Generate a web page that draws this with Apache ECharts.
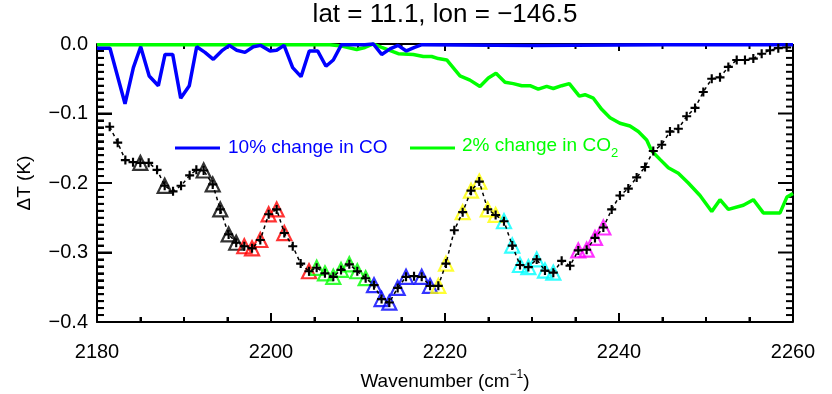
<!DOCTYPE html>
<html><head><meta charset="utf-8">
<script src="https://cdn.jsdelivr.net/npm/echarts@6/dist/echarts.min.js"></script>
<style>html,body{margin:0;padding:0;background:#fff}#c{width:832px;height:394px}</style>
</head><body><div id="c"></div>
<script>
// ---- data ----
const titleText = 'lat = 11.1, lon = \u2212146.5';
const xTicks = [2180, 2200, 2220, 2240, 2260];
const yTicks = [0.0, -0.1, -0.2, -0.3, -0.4];

const wavenumber = [2181.46, 2182.38, 2183.26, 2184.14, 2184.98, 2185.94, 2186.90, 2187.78, 2188.74, 2189.66,
  2190.65, 2191.42, 2192.26, 2193.30, 2194.17, 2195.13, 2196.00, 2196.93, 2197.82, 2198.77,
  2199.73, 2200.65, 2201.53, 2202.50, 2203.41, 2204.37, 2205.25, 2206.20, 2207.16, 2208.05,
  2209.00, 2209.92, 2210.88, 2211.84, 2212.71, 2213.60, 2214.56, 2215.52, 2216.44, 2217.32,
  2218.28, 2219.23, 2220.11, 2221.07, 2222.03, 2222.99, 2223.94, 2224.91, 2225.82, 2226.78,
  2227.73, 2228.62, 2229.58, 2230.54, 2231.49, 2232.45, 2233.41, 2234.37, 2235.32, 2236.28,
  2237.24, 2238.20, 2239.16, 2240.11, 2241.07, 2242.03, 2242.99, 2243.94, 2244.91, 2245.86,
  2246.82, 2247.78, 2248.74, 2249.69, 2250.66, 2251.61, 2252.57, 2253.53, 2254.48, 2255.44,
  2256.40, 2257.36, 2258.31, 2259.27];
const deltaT = [-0.119, -0.142, -0.167, -0.170, -0.171, -0.171, -0.181, -0.204, -0.212, -0.204,
  -0.189, -0.181, -0.182, -0.202, -0.238, -0.274, -0.286, -0.291, -0.294, -0.282,
  -0.245, -0.238, -0.272, -0.291, -0.316, -0.327, -0.322, -0.330, -0.335, -0.325,
  -0.317, -0.327, -0.337, -0.347, -0.367, -0.372, -0.351, -0.335, -0.334, -0.335,
  -0.348, -0.348, -0.316, -0.268, -0.242, -0.211, -0.198, -0.238, -0.246, -0.255,
  -0.290, -0.318, -0.321, -0.310, -0.326, -0.329, -0.312, -0.319, -0.297, -0.296,
  -0.279, -0.264, -0.238, -0.218, -0.208, -0.192, -0.177, -0.154, -0.145, -0.126,
  -0.122, -0.104, -0.092, -0.069, -0.050, -0.048, -0.033, -0.023, -0.023, -0.021,
  -0.014, -0.009, -0.006, -0.005];

// channels marked with triangles (indices into the arrays above), by colour
const triBlack   = [4, 7, 12, 13, 14, 15, 16];
const triRed     = [17, 18, 19, 20, 21, 22, 25];
const triGreen   = [26, 27, 28, 29, 30, 31, 32];
const triBlue    = [33, 34, 35, 36, 37, 39, 40];
const triYellow  = [41, 42, 44, 45, 46, 47, 48];
const triCyan    = [49, 50, 51, 52, 53, 54, 55];
const triMagenta = [58, 59, 60, 61];

const coX = [2180.00, 2181.49, 2183.22, 2184.18, 2185.02, 2186.00, 2187.05, 2187.82, 2188.70, 2189.62,
  2190.61, 2191.46, 2192.41, 2193.37, 2194.33, 2195.21, 2196.06, 2197.01, 2197.97, 2198.82,
  2199.89, 2200.65, 2201.50, 2202.49, 2203.45, 2204.40, 2205.36, 2206.32, 2207.16, 2208.10,
  2209.90, 2210.80, 2211.76, 2212.72, 2213.68, 2214.60, 2215.56, 2216.50, 2217.35, 2230.00,
  2245.00, 2260.00];
const coY = [-0.006, -0.006, -0.086, -0.034, -0.004, -0.046, -0.060, -0.015, -0.015, -0.078,
  -0.060, -0.004, -0.012, -0.022, -0.010, -0.002, -0.009, -0.012, -0.004, -0.002,
  -0.010, -0.009, -0.002, -0.034, -0.047, -0.010, -0.010, -0.032, -0.023, -0.001,
  -0.001, -0.001, 0.000, -0.015, -0.007, -0.002, -0.010, -0.005, -0.001, -0.002,
  -0.001, -0.001];

const co2X = [2180.00, 2206.78, 2208.13, 2209.85, 2210.80, 2211.76, 2212.72, 2214.63, 2216.36, 2217.51,
  2218.47, 2219.23, 2220.20, 2221.72, 2222.87, 2224.02, 2224.98, 2225.86, 2226.90, 2227.85,
  2228.82, 2229.77, 2230.72, 2231.69, 2232.45, 2233.41, 2234.29, 2235.44, 2236.09, 2237.05,
  2238.01, 2238.97, 2240.11, 2241.26, 2242.22, 2243.18, 2243.76, 2244.71, 2245.67, 2246.82,
  2247.97, 2249.31, 2250.66, 2251.61, 2252.57, 2254.29, 2255.44, 2256.59, 2258.51, 2259.31,
  2260.00];
const co2Y = [-0.001, -0.001, -0.003, -0.008, -0.005, 0.000, -0.005, -0.014, -0.015, -0.018,
  -0.018, -0.021, -0.023, -0.046, -0.052, -0.061, -0.049, -0.042, -0.055, -0.057,
  -0.060, -0.060, -0.065, -0.061, -0.064, -0.060, -0.057, -0.075, -0.073, -0.078,
  -0.094, -0.106, -0.114, -0.118, -0.126, -0.138, -0.154, -0.166, -0.178, -0.186,
  -0.200, -0.218, -0.241, -0.224, -0.238, -0.232, -0.224, -0.243, -0.243, -0.220,
  -0.215];

// ---- chart ----
const FONT = 'Liberation Sans';
const pairs = (xs, ys) => xs.map((x, i) => [x, ys[i]]);
const pick = idx => idx.map(i => [wavenumber[i], deltaT[i]]);
const PLUS = 'path://M3.8,0h2.4v3.8h3.8v2.4h-3.8v3.8h-2.4v-3.8h-3.8v-2.4h3.8z';

const XMIN = xTicks[0], XMAX = xTicks[xTicks.length - 1];
const YMIN = yTicks[yTicks.length - 1], YMAX = yTicks[0];

// tick positions (major every 20 / 0.1, minor every 5 / 0.01): [x, y, side(0=x,1=y), major]
const tickData = [];
for (let k = 0; k <= (XMAX - XMIN) / 5; k++) tickData.push([XMIN + 5 * k, YMIN, 0, k % 4 === 0 ? 1 : 0]);
for (let k = 0; k <= 40; k++) tickData.push([XMIN, +(YMIN + 0.01 * k).toFixed(2), 1, k % 10 === 0 ? 1 : 0]);

function renderTick(params, api) {
  const side = api.value(2), major = api.value(3) === 1;
  const st = {stroke: '#000', lineWidth: 2, fill: null};
  if (side === 0) {
    const v = api.value(0);
    const b = api.coord([v, YMIN]), t = api.coord([v, YMAX]);
    const lb = major ? 9 : 5, lt = major ? 7 : 5;
    return {type: 'group', children: [
      {type: 'line', shape: {x1: b[0], y1: b[1], x2: b[0], y2: b[1] - lb}, style: st},
      {type: 'line', shape: {x1: t[0], y1: t[1], x2: t[0], y2: t[1] + lt}, style: st}
    ]};
  }
  const v = api.value(1);
  const l = api.coord([XMIN, v]), r = api.coord([XMAX, v]);
  const len = major ? 15 : 7;
  return {type: 'group', children: [
    {type: 'line', shape: {x1: l[0], y1: l[1], x2: l[0] + len, y2: l[1]}, style: st},
    {type: 'line', shape: {x1: r[0], y1: r[1], x2: r[0] - len, y2: r[1]}, style: st}
  ]};
}

function triSeries(idx, color) {
  return {
    type: 'scatter', data: pick(idx), symbol: 'triangle', symbolSize: [14, 14],
    itemStyle: {color: 'rgba(255,255,255,0)', borderColor: color, borderWidth: 2.2}
  };
}

const chart = echarts.init(document.getElementById('c'));

chart.setOption({
  animation: false,
  grid: {left: 97, right: 39, top: 44, bottom: 72},
  xAxis: {
    type: 'value', min: XMIN, max: XMAX, interval: 20,
    axisLine: {show: true, onZero: false, lineStyle: {color: '#000', width: 2}},
    axisTick: {show: true, inside: true, length: 9, lineStyle: {color: '#000', width: 2}},
    minorTick: {show: true, splitNumber: 4, length: 5, lineStyle: {color: '#000', width: 2}},
    splitLine: {show: false},
    axisLabel: {color: '#000', fontSize: 20, margin: 20, fontFamily: FONT, formatter: v => String(v)}
  },
  yAxis: {
    type: 'value', min: YMIN, max: YMAX, interval: 0.1,
    axisLine: {show: true, onZero: false, lineStyle: {color: '#000', width: 2}},
    axisTick: {show: true, inside: true, length: 15, lineStyle: {color: '#000', width: 2}},
    minorTick: {show: true, splitNumber: 10, length: 7, lineStyle: {color: '#000', width: 2}},
    splitLine: {show: false},
    axisLabel: {color: '#000', fontSize: 20, margin: 9, fontFamily: FONT,
      formatter: v => (Math.abs(v) < 1e-9 ? '0.0' : '\u2212' + Math.abs(v).toFixed(1))}
  },
  series: [
    {type: 'custom', data: tickData, renderItem: renderTick, clip: false, silent: true,
      encode: {x: 0, y: 1}},
    {type: 'line', data: pairs(co2X, co2Y), showSymbol: false, clip: false,
      lineStyle: {color: '#00ff00', width: 3.5}},
    {type: 'line', data: pairs(coX, coY), showSymbol: false, clip: false,
      lineStyle: {color: '#0000ff', width: 3.5}},
    triSeries(triBlack, '#000000'),
    triSeries(triRed, '#ff0000'),
    triSeries(triGreen, '#00ff00'),
    triSeries(triBlue, '#0000ff'),
    triSeries(triYellow, '#ffff00'),
    triSeries(triCyan, '#00ffff'),
    triSeries(triMagenta, '#ff00ff'),
    {type: 'line', data: pairs(wavenumber, deltaT), symbol: PLUS, symbolSize: 9, showSymbol: true,
      showAllSymbol: true,
      itemStyle: {color: '#000'}, lineStyle: {color: '#000', width: 1.5, type: [3.5, 3.5]}}
  ]
});

// frame lines on top and right, placed through the chart's own scale
const gr = [];
try {
  const tl = chart.convertToPixel({gridIndex: 0}, [XMIN, YMAX]);
  const br = chart.convertToPixel({gridIndex: 0}, [XMAX, YMIN]);
  gr.push({type: 'line', shape: {x1: tl[0], y1: tl[1], x2: br[0], y2: tl[1]}, style: {stroke: '#000', lineWidth: 2}});
  gr.push({type: 'line', shape: {x1: br[0], y1: tl[1], x2: br[0], y2: br[1]}, style: {stroke: '#000', lineWidth: 2}});
} catch (e) {}

gr.push(
  {type: 'text', x: 445, y: 15,
    style: {text: titleText, fill: '#000', font: '26px ' + FONT, align: 'center', verticalAlign: 'middle'}},
  {type: 'text', x: 25, y: 183, rotation: Math.PI / 2,
    style: {text: '\u0394T (K)', fill: '#000', font: '19px ' + FONT, align: 'center', verticalAlign: 'middle'}},
  {type: 'text', x: 445, y: 380,
    style: {text: '{a|Wavenumber (cm}{s|\u22121}{a|)}', align: 'center', verticalAlign: 'middle',
      rich: {a: {fill: '#000', fontSize: 19, fontFamily: FONT, lineHeight: 22, verticalAlign: 'bottom'},
             s: {fill: '#000', fontSize: 12, fontFamily: FONT, lineHeight: 22, verticalAlign: 'top', padding: [0, 0, 8, 0]}}}},
  {type: 'line', shape: {x1: 175, y1: 148, x2: 220, y2: 148}, style: {stroke: '#0000ff', lineWidth: 3}},
  {type: 'text', x: 228, y: 148,
    style: {text: '10% change in CO', fill: '#0000ff', font: '19px ' + FONT, align: 'left', verticalAlign: 'middle'}},
  {type: 'line', shape: {x1: 410, y1: 148, x2: 455, y2: 148}, style: {stroke: '#00ff00', lineWidth: 3}},
  {type: 'text', x: 462, y: 148,
    style: {text: '{a|2% change in CO}{s|2}', align: 'left', verticalAlign: 'middle',
      rich: {a: {fill: '#00ff00', fontSize: 19, fontFamily: FONT, lineHeight: 24, verticalAlign: 'top'},
             s: {fill: '#00ff00', fontSize: 13, fontFamily: FONT, lineHeight: 24, verticalAlign: 'bottom', padding: [8, 0, 0, 0]}}}}
);
chart.setOption({graphic: gr});
</script></body></html>
